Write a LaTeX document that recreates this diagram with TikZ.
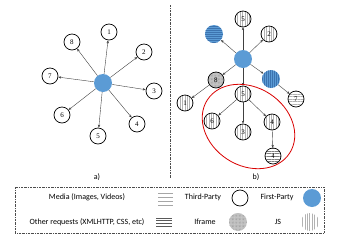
\documentclass[tikz,border=0pt]{standalone}
\usepackage{fontspec}
\setmainfont{Carlito}
\newfontfamily\numfont{Liberation Serif}
\usetikzlibrary{arrows.meta,patterns.meta,shapes.geometric}
\definecolor{fpblue}{RGB}{91,155,213}
\definecolor{fpdark}{RGB}{60,115,175}
\tikzset{
  tp/.style={circle, draw=black, line width=0.7pt, minimum size=16pt, inner sep=0pt, font=\numfont\fontsize{7}{8}\selectfont},
  fp/.style={circle, fill=fpblue, minimum size=18pt, inner sep=0pt},
  jsfill/.style={pattern={Lines[angle=90,distance=2.4pt,line width=0.25pt]}, pattern color=black!30},
  mediafill/.style={pattern={Lines[angle=0,distance=2.6pt,line width=0.3pt]}, pattern color=black!30},
  otherfill/.style={pattern={Lines[angle=0,distance=2.6pt,line width=0.35pt]}, pattern color=black!50},
  ifrfill/.style={preaction={fill=black!22}, pattern={Dots[distance=1.4pt,radius=0.3pt]}, pattern color=black!50},
  fpjs/.style={fp, preaction={fill=fpblue}, pattern={Lines[angle=90,distance=2pt,line width=0.45pt]}, pattern color=fpdark},
  fpother/.style={fp, preaction={fill=fpblue}, pattern={Lines[angle=0,distance=2pt,line width=0.45pt]}, pattern color=fpdark},
  edge/.style={-{Stealth[length=3pt,width=2.4pt]}, draw=black!75, line width=0.4pt},
  lgtext/.style={font=\fontsize{8}{9}\selectfont, inner sep=0pt},
  sep/.style={draw=black!70, line width=0.5pt, dash pattern=on 2pt off 1pt on 0.5pt off 1pt}
}
\begin{document}
\begin{tikzpicture}[x=1pt,y=-1pt]
\useasboundingbox (0,0) rectangle (341,242);
% ---------- a) ----------
\node[fp] (ha) at (103,83) {};
\node[tp] (a1) at (109,32) {1};
\node[tp] (a2) at (144,52) {2};
\node[tp] (a3) at (154,91) {3};
\node[tp] (a4) at (137,124) {4};
\node[tp] (a5) at (98,136) {5};
\node[tp] (a6) at (62,115) {6};
\node[tp] (a7) at (50,76) {7};
\node[tp] (a8) at (72,42) {8};
\foreach \n in {a1,a2,a3,a4,a5,a6,a7,a8} \draw[edge] (ha) -- (\n);
\node[lgtext] (la) at (97,177) {a)};
% separator
\coordinate (s1) at (170,5);
\coordinate (s2) at (170,178);
\draw[sep] (s1) -- (s2);
% ---------- b) ----------
\node[fp] (hb) at (243,59) {};
\node[tp, jsfill] (b5t) at (243,19) {5};
\node[tp, jsfill] (b2) at (269,34) {2};
\node[fpother] (bfo) at (214,34) {};
\node[fpjs] (bfj) at (271,79) {};
\node[tp, ifrfill] (b8) at (216,80) {8};
\node[tp, jsfill] (b5) at (243,94) {5};
\node[tp, jsfill] (b1) at (185,103) {1};
\node[tp, mediafill] (b7) at (296,99) {7};
\node[tp, jsfill] (b6) at (212,121) {6};
\node[tp, jsfill] (b3) at (243,132) {3};
\node[tp, jsfill] (b4) at (272,122) {4};
\node[tp, otherfill] (b4b) at (273,156) {4};
\draw[edge] (hb) -- (b5t);
\draw[edge] (hb) -- (b2);
\draw[edge] (hb) -- (bfo);
\draw[edge] (hb) -- (bfj);
\draw[edge] (hb) -- (b8);
\draw[edge] (hb) -- (b5);
\draw[edge] (b8) -- (b1);
\draw[edge] (bfj) -- (b7);
\draw[edge] (b5) -- (b6);
\draw[edge] (b5) -- (b3);
\draw[edge] (b5) -- (b4);
\draw[edge] (b4) -- (b4b);
\node[draw=red!85!black, line width=0.8pt, ellipse, minimum width=98pt, minimum height=78pt, inner sep=0pt, rotate=-33] (ell) at (248.5,126.5) {};
\node[lgtext] (lb) at (256,177) {b)};
% ---------- legend ----------
\draw[sep] (15,187) rectangle (324,233);
\node[lgtext] (t1) at (87,197) {Media (Images, Videos)};
\foreach \yy in {193,197,201,205} \draw[black!35, line width=0.5pt] (158,\yy) -- (173,\yy);
\node[lgtext] (t2) at (203,197) {Third-Party};
\node[circle, draw=black, line width=0.7pt, minimum size=16pt, inner sep=0pt] (c2) at (240,198) {};
\node[lgtext] (t3) at (277,197) {First-Party};
\node[fp] (c3) at (312,198) {};
\node[lgtext] (t4) at (87,222) {Other requests (XMLHTTP, CSS, etc)};
\foreach \yy in {218,220.7,223.4,226.1} \draw[black!65, line width=0.5pt] (156,\yy) -- (172,\yy);
\node[lgtext] (t5) at (205,222) {Iframe};
\node[circle, minimum size=18pt, inner sep=0pt, ifrfill] (c5) at (238,222) {};
\node[lgtext] (t6) at (278,222) {JS};
\node[circle, minimum size=18pt, inner sep=0pt, jsfill] (c6) at (310,222) {};
\end{tikzpicture}
\end{document}
